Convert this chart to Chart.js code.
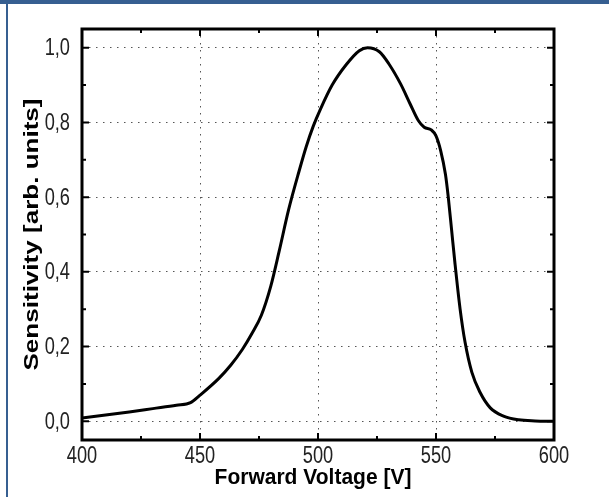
<!DOCTYPE html>
<html>
<head>
<meta charset="utf-8">
<script src="https://cdn.jsdelivr.net/npm/chart.js@4"></script>
<style>
  html, body { margin: 0; padding: 0; background: #fff; }
  #wrap { position: relative; width: 609px; height: 497px; }
  #topbar { position: absolute; left: 0; top: 0; width: 609px; height: 4px; background: #365f91; }
  #leftbar { position: absolute; left: 6px; top: 0; width: 2px; height: 497px; background: #365f91; }
  canvas { position: absolute; left: 0; top: 0; }
</style>
</head>
<body>
<div id="wrap">
  <canvas id="chart" width="609" height="497"></canvas>
  <div id="topbar"></div>
  <div id="leftbar"></div>
</div>
<script>
// Forward voltage [V] and normalised sensitivity
const voltage = [400, 410, 420, 430, 440, 446, 450, 458, 463, 468,
    472, 476, 480, 483.5, 487.5, 492, 495, 498, 501, 506,
    512, 517.5, 521, 526, 530, 535, 539, 542.5, 545, 548,
    550, 552, 554, 555.2, 556.6, 558, 560.2, 562.3, 565.2, 568.7,
    573, 578.6, 585, 592, 600];
const sensitivity = [0.009, 0.017, 0.025, 0.034, 0.043, 0.05, 0.07, 0.115, 0.15, 0.193,
    0.235, 0.284, 0.362, 0.454, 0.565, 0.67, 0.735, 0.79, 0.835, 0.9,
    0.955, 0.992, 1.0, 0.989, 0.957, 0.903, 0.85, 0.805, 0.787, 0.78,
    0.764, 0.724, 0.661, 0.6, 0.513, 0.425, 0.301, 0.212, 0.131, 0.077,
    0.036, 0.014, 0.004, 0.001, 0.0];

// Axis ticks
const xTicks = [400, 450, 500, 550, 600];
const xMinorTicks = [425, 475, 525, 575];
const yTicks = [0, 0.2, 0.4, 0.6, 0.8, 1.0];
const yMinorTicks = [0.1, 0.3, 0.5, 0.7, 0.9];

const xTitle = "Forward Voltage [V]";
const yTitle = "Sensitivity [arb. units]";

const points = voltage.map((v, i) => ({ x: v, y: sensitivity[i] }));

const tickFont = "24px 'Liberation Sans', Arial, sans-serif";
const titleFont = "bold 21px 'Liberation Sans', Arial, sans-serif";

// Box frame with inward ticks on all four sides, plus the (narrow) labels
const framePlugin = {
    id: "frame",
    afterDraw(chart) {
        const { ctx, chartArea: a, scales } = chart;
        ctx.save();
        ctx.strokeStyle = "#000";
        ctx.lineWidth = 2;
        ctx.beginPath();
        xTicks.forEach(v => {
            const px = scales.x.getPixelForValue(v);
            ctx.moveTo(px, a.bottom); ctx.lineTo(px, a.bottom - 7);
            ctx.moveTo(px, a.top); ctx.lineTo(px, a.top + 7);
        });
        xMinorTicks.forEach(v => {
            const px = scales.x.getPixelForValue(v);
            ctx.moveTo(px, a.bottom); ctx.lineTo(px, a.bottom - 4);
            ctx.moveTo(px, a.top); ctx.lineTo(px, a.top + 4);
        });
        yTicks.forEach(v => {
            const py = scales.y.getPixelForValue(v);
            ctx.moveTo(a.left, py); ctx.lineTo(a.left + 7, py);
            ctx.moveTo(a.right, py); ctx.lineTo(a.right - 7, py);
        });
        yMinorTicks.forEach(v => {
            const py = scales.y.getPixelForValue(v);
            ctx.moveTo(a.left, py); ctx.lineTo(a.left + 4, py);
            ctx.moveTo(a.right, py); ctx.lineTo(a.right - 4, py);
        });
        ctx.stroke();
        ctx.lineWidth = 3;
        ctx.strokeRect(a.left, a.top, a.right - a.left, a.bottom - a.top);

        // tick labels, condensed like the original
        ctx.fillStyle = "#222";
        ctx.font = tickFont;
        ctx.textBaseline = "middle";
        yTicks.forEach(v => {
            const py = scales.y.getPixelForValue(v);
            ctx.save();
            ctx.translate(a.left - 12, py + 1);
            ctx.scale(0.76, 1);
            ctx.textAlign = "right";
            ctx.fillText(v.toFixed(1).replace(".", ","), 0, 0);
            ctx.restore();
        });
        xTicks.forEach(v => {
            const px = scales.x.getPixelForValue(v);
            ctx.save();
            ctx.translate(px, a.bottom + 16);
            ctx.scale(0.76, 1);
            ctx.textAlign = "center";
            ctx.fillText(String(v), 0, 0);
            ctx.restore();
        });

        // axis titles
        ctx.fillStyle = "#000";
        ctx.font = titleFont;
        ctx.textAlign = "center";
        ctx.save();
        ctx.translate((a.left + a.right) / 2 - 5, a.bottom + 38);
        ctx.scale(1, 1.08);
        ctx.fillText(xTitle, 0, 0);
        ctx.restore();
        ctx.save();
        ctx.translate(32, (a.top + a.bottom) / 2);
        ctx.rotate(-Math.PI / 2);
        ctx.scale(1.24, 1);
        ctx.fillText(yTitle, 0, 0);
        ctx.restore();
        ctx.restore();
    }
};

new Chart(document.getElementById("chart"), {
    type: "scatter",
    data: {
        datasets: [{
            data: points,
            showLine: true,
            borderColor: "#000",
            borderWidth: 3,
            pointRadius: 0,
            cubicInterpolationMode: "monotone"
        }]
    },
    options: {
        responsive: false,
        animation: false,
        layout: { padding: { left: 0, top: 29, right: 55, bottom: 0 } },
        plugins: { legend: { display: false }, tooltip: { enabled: false } },
        scales: {
            x: {
                type: "linear",
                min: 400,
                max: 600,
                afterBuildTicks: s => { s.ticks = xTicks.map(v => ({ value: v })); },
                afterFit: s => { s.height = 57; },
                grid: { color: "#555", lineWidth: 1, drawTicks: false },
                border: { display: false, dash: [1.5, 5.5] },
                ticks: { display: false }
            },
            y: {
                type: "linear",
                min: -0.05,
                max: 1.05,
                afterBuildTicks: s => { s.ticks = yTicks.map(v => ({ value: v })); },
                afterFit: s => { s.width = 82; },
                grid: { color: "#555", lineWidth: 1, drawTicks: false },
                border: { display: false, dash: [1.5, 5.5] },
                ticks: { display: false }
            }
        }
    },
    plugins: [framePlugin]
});
</script>
</body>
</html>
